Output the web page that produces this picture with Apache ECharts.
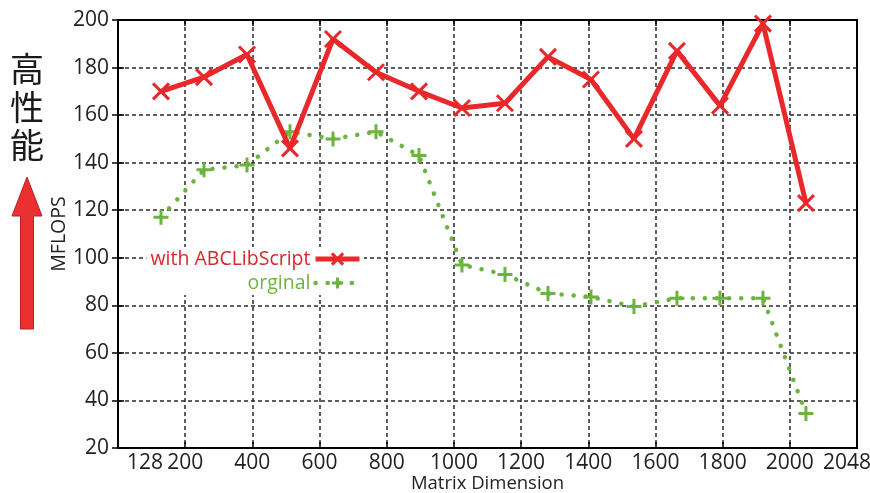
<!DOCTYPE html>
<html>
<head>
<meta charset="utf-8">
<script src="https://cdn.jsdelivr.net/npm/echarts@6/dist/echarts.min.js"></script>
<style>
html,body{margin:0;padding:0;background:#fff;}
#chart{width:870px;height:493px;}
</style>
</head>
<body>
<div id="chart"></div>
<script>
// ---- data ----
var matrixSizes = [128, 256, 384, 512, 640, 768, 896, 1024, 1152, 1280, 1408, 1536, 1664, 1792, 1920, 2048];
var abcLibScript = [170, 176, 185.5, 146, 192, 178, 170, 163, 165, 184.5, 175, 150, 187, 164, 198.5, 123];
var original = [117, 137, 139, 153, 150, 153, 143, 97, 93, 85, 83.5, 79.5, 83, 83, 83, 34.5];
var xTickValues = [200, 400, 600, 800, 1000, 1200, 1400, 1600, 1800, 2000];
var xLabelValues = [128, 200, 400, 600, 800, 1000, 1200, 1400, 1600, 1800, 2000, 2048];
var seriesNames = ['with ABCLibScript', 'orginal'];

var RED = '#e8282b';
var GREEN = '#6cb43f';
var FONT = 'Open Sans';

function pairs(xs, ys) { return xs.map(function (x, i) { return [x, ys[i]]; }); }

var gridLine = { show: true, lineStyle: { color: '#2a2a2a', type: [4, 3], width: 1.5 } };
var redLine = { color: RED, width: 5 };
var greenLine = { color: GREEN, width: 4.5, type: [0.1, 12], cap: 'round' };
var redItem = { color: RED, borderColor: RED, borderWidth: 3 };
var greenItem = { color: GREEN, borderColor: GREEN, borderWidth: 3 };

var chart = echarts.init(document.getElementById('chart'));
chart.setOption({
  animation: false,
  backgroundColor: '#fff',
  grid: { left: 118, right: 13, top: 20, bottom: 45, show: true, borderColor: '#000', borderWidth: 2, outerBoundsMode: 'none', containLabel: false },
  legend: {
    orient: 'vertical', align: 'right', right: 506, top: 247,
    itemWidth: 44, itemHeight: 14, itemGap: 4,
    backgroundColor: '#fff', padding: [2, 2, 2, 4],
    textStyle: { fontFamily: FONT, fontSize: 19.5 },
    data: [
      { name: seriesNames[0], textStyle: { color: '#d8262a' }, lineStyle: redLine, itemStyle: redItem },
      { name: seriesNames[1], textStyle: { color: GREEN }, lineStyle: greenLine, itemStyle: greenItem }
    ]
  },
  xAxis: [{
    type: 'value', min: 0, max: 2200, interval: 200,
    name: 'Matrix Dimension', nameLocation: 'middle', nameGap: 26, nameMoveOverlap: false,
    nameTextStyle: { fontFamily: FONT, fontSize: 18.5, color: '#222' },
    axisLine: { show: true, lineStyle: { color: '#000', width: 2 } },
    axisTick: { show: true, inside: true, length: 6, customValues: xTickValues, lineStyle: { color: '#000', width: 1.5 } },
    axisLabel: {
      customValues: xLabelValues, margin: 5,
      fontFamily: FONT, fontSize: 21, color: '#222',
      formatter: function (v) {
        if (v === 128) return '{l|128}';
        if (v === 2048) return '{r|2048}';
        return String(v);
      },
      rich: {
        l: { fontFamily: FONT, fontSize: 21, color: '#222', padding: [0, 32, 0, 0] },
        r: { fontFamily: FONT, fontSize: 21, color: '#222', padding: [0, 0, 0, 82] }
      }
    },
    splitLine: gridLine
  }, {
    type: 'value', min: 0, max: 2200, interval: 200, position: 'top',
    axisLine: { show: true, lineStyle: { color: '#000', width: 2 } },
    axisTick: { show: true, inside: true, length: 6, customValues: xTickValues, lineStyle: { color: '#000', width: 1.5 } },
    axisLabel: { show: false },
    splitLine: { show: false }
  }],
  yAxis: [{
    type: 'value', min: 20, max: 200, interval: 20,
    name: 'MFLOPS', nameLocation: 'middle', nameGap: 49, nameMoveOverlap: false,
    nameTextStyle: { fontFamily: FONT, fontSize: 19.5, color: '#222' },
    axisLine: { show: true, lineStyle: { color: '#000', width: 2 } },
    axisTick: { show: true, inside: true, length: 6, lineStyle: { color: '#000', width: 1.5 } },
    axisLabel: { margin: 9, fontFamily: FONT, fontSize: 21, color: '#222' },
    splitLine: gridLine
  }, {
    type: 'value', min: 20, max: 200, interval: 20, position: 'right',
    axisLine: { show: true, lineStyle: { color: '#000', width: 2 } },
    axisTick: { show: true, inside: true, length: 6, lineStyle: { color: '#000', width: 1.5 } },
    axisLabel: { show: false },
    splitLine: { show: false }
  }],
  graphic: [
    {
      type: 'text', left: 10, top: 50,
      style: { text: '高\n性\n能', fontFamily: 'Noto Sans CJK JP', fontSize: 34, lineHeight: 38, fill: '#1a1a1a' }
    },
    {
      type: 'polygon',
      shape: { points: [[27, 177], [42, 216], [33.5, 216], [33.5, 329], [20.5, 329], [20.5, 216], [12, 216]] },
      style: { fill: '#ea3030', stroke: '#b52222', lineWidth: 1 }
    }
  ],
  series: [{
    name: seriesNames[1], type: 'line', xAxisIndex: 0, yAxisIndex: 0,
    data: pairs(matrixSizes, original),
    symbol: 'path://M5,0L5,10M0,5L10,5', symbolSize: 15,
    itemStyle: greenItem,
    lineStyle: greenLine,
    z: 3
  }, {
    name: seriesNames[0], type: 'line', xAxisIndex: 0, yAxisIndex: 0,
    data: pairs(matrixSizes, abcLibScript),
    symbol: 'path://M0,0L10,10M10,0L0,10', symbolSize: 16,
    itemStyle: redItem,
    lineStyle: redLine,
    z: 4
  }]
});
</script>
</body>
</html>
